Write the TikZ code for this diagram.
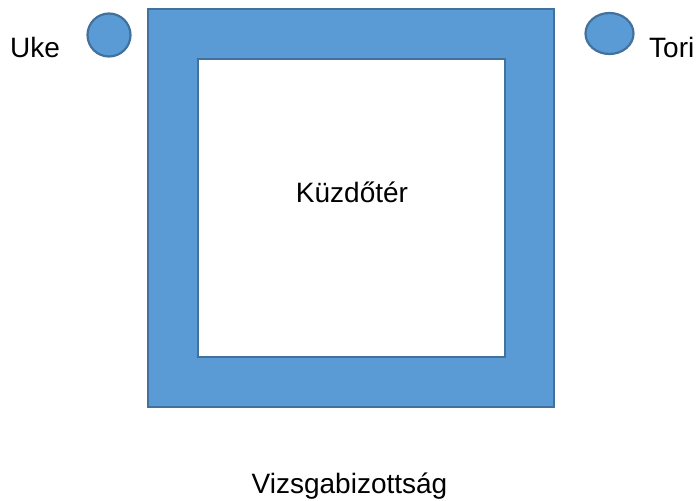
\documentclass[tikz,border=0pt]{standalone}
\usepackage{fontspec}
\setmainfont{Liberation Sans}
\usetikzlibrary{shapes.geometric}
\definecolor{boxfill}{HTML}{5B9BD5}
\definecolor{boxline}{HTML}{41719C}
\begin{document}
\begin{tikzpicture}[x=1pt,y=-1pt,
  blueshape/.style={fill=boxfill,draw=boxline,line width=2.2pt},
  lbl/.style={inner sep=0pt,font=\fontsize{28}{32}\selectfont}]
\useasboundingbox (0,0) rectangle (697,501);
\draw[blueshape] (148,9) rectangle (554,407);
\draw[fill=white,draw=boxline,line width=2.2pt] (198,59) rectangle (505,357);
\node[blueshape,circle,minimum size=43pt,inner sep=0pt] (uke) at (109,35) {};
\node[blueshape,ellipse,minimum width=48pt,minimum height=41pt,inner sep=0pt] (tori) at (609.5,33.5) {};
\node[lbl,anchor=base west] (ukel) at (10,57) {Uke};
\node[lbl,anchor=base west] (toril) at (649,57) {Tori};
\node[lbl,anchor=base] (kuzd) at (352,202) {Küzdőtér};
\node[lbl,anchor=base] (vizs) at (349.5,493) {Vizsgabizottság};
\end{tikzpicture}
\end{document}
